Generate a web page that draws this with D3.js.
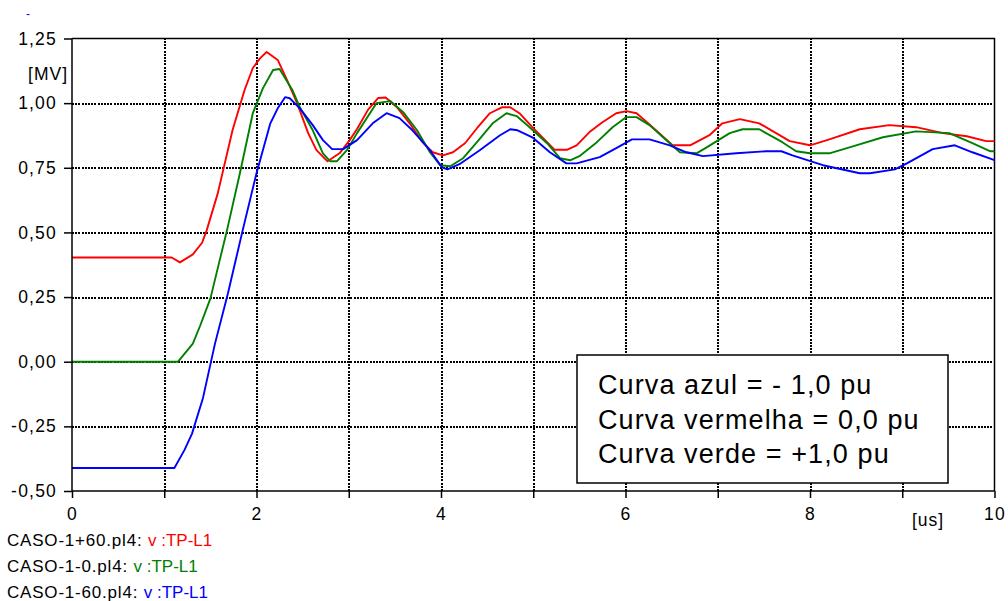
<!DOCTYPE html>
<html>
<head>
<meta charset="utf-8">
<script src="https://cdn.jsdelivr.net/npm/d3@7"></script>
<style>
  body { margin: 0; background: #fff; }
  svg { display: block; font-family: "Liberation Sans", Arial, sans-serif; }
  .axis path, .axis line { stroke: #000; stroke-width: 1.5; }
  .axis text { font-family: "Liberation Sans", Arial, sans-serif; font-size: 17.5px; fill: #000; letter-spacing: 1.2px; }
  .curve { fill: none; stroke-width: 1.9; stroke-linejoin: round; }
</style>
</head>
<body>
<script>
//************************************************************
// Data: [time in us, voltage in MV]
//************************************************************
var redCurve = [
	[0, 0.403], [1.08, 0.403], [1.17, 0.384], [1.31, 0.415], [1.41, 0.46], [1.46, 0.508], [1.58, 0.651],
	[1.74, 0.895], [1.87, 1.05], [1.96, 1.136], [2.04, 1.174], [2.11, 1.198], [2.23, 1.167], [2.33, 1.09],
	[2.44, 1.0], [2.56, 0.884], [2.65, 0.818], [2.77, 0.775], [2.90, 0.806], [3.01, 0.857], [3.09, 0.90],
	[3.21, 0.975], [3.32, 1.02], [3.40, 1.022], [3.52, 0.985], [3.66, 0.922], [3.80, 0.849], [3.91, 0.81],
	[4.02, 0.798], [4.13, 0.81], [4.26, 0.845], [4.39, 0.903], [4.53, 0.961], [4.66, 0.984], [4.75, 0.984],
	[4.85, 0.961], [5.00, 0.903], [5.15, 0.849], [5.23, 0.82], [5.37, 0.82], [5.47, 0.837], [5.61, 0.888],
	[5.75, 0.926], [5.90, 0.961], [6.01, 0.969], [6.12, 0.961], [6.26, 0.918], [6.51, 0.837], [6.70, 0.837],
	[6.91, 0.876], [7.05, 0.922], [7.24, 0.938], [7.45, 0.922], [7.78, 0.853], [8.00, 0.837], [8.21, 0.86],
	[8.54, 0.899], [8.86, 0.915], [9.15, 0.907], [9.44, 0.884], [9.70, 0.872], [9.91, 0.853], [10, 0.853]
];

var greenCurve = [
	[0, 0], [1.15, 0], [1.31, 0.07], [1.39, 0.14], [1.50, 0.244], [1.60, 0.391], [1.68, 0.508], [1.82, 0.729],
	[1.96, 0.961], [2.07, 1.058], [2.18, 1.128], [2.25, 1.132], [2.39, 1.05], [2.47, 0.984], [2.61, 0.895],
	[2.72, 0.806], [2.80, 0.775], [2.87, 0.775], [2.98, 0.818], [3.09, 0.884], [3.30, 1.0], [3.45, 1.008],
	[3.59, 0.965], [3.74, 0.895], [3.88, 0.81], [3.99, 0.76], [4.10, 0.756], [4.24, 0.787], [4.39, 0.849],
	[4.56, 0.922], [4.71, 0.961], [4.82, 0.95], [4.96, 0.907], [5.15, 0.845], [5.29, 0.787], [5.40, 0.779],
	[5.50, 0.795], [5.69, 0.849], [5.86, 0.907], [6.01, 0.946], [6.12, 0.946], [6.26, 0.915], [6.48, 0.845],
	[6.59, 0.81], [6.77, 0.806], [6.88, 0.829], [7.13, 0.884], [7.27, 0.899], [7.45, 0.899], [7.70, 0.849],
	[7.85, 0.814], [8.00, 0.806], [8.21, 0.806], [8.50, 0.837], [8.79, 0.868], [9.15, 0.891], [9.51, 0.884],
	[9.76, 0.845], [9.95, 0.814], [10, 0.814]
];

var blueCurve = [
	[0, -0.411], [1.11, -0.411], [1.22, -0.341], [1.30, -0.279], [1.42, -0.14], [1.55, 0.07], [1.69, 0.264],
	[1.85, 0.508], [2.00, 0.729], [2.15, 0.922], [2.23, 0.98], [2.31, 1.023], [2.36, 1.019], [2.47, 0.98],
	[2.61, 0.915], [2.72, 0.857], [2.82, 0.822], [2.94, 0.822], [3.09, 0.857], [3.26, 0.922], [3.41, 0.961],
	[3.55, 0.942], [3.69, 0.895], [3.88, 0.818], [4.01, 0.752], [4.07, 0.744], [4.20, 0.764], [4.42, 0.818],
	[4.64, 0.876], [4.75, 0.899], [4.83, 0.895], [4.99, 0.868], [5.18, 0.81], [5.36, 0.767], [5.47, 0.767],
	[5.72, 0.791], [5.90, 0.826], [6.07, 0.86], [6.26, 0.86], [6.48, 0.837], [6.66, 0.81], [6.84, 0.795],
	[7.20, 0.806], [7.53, 0.814], [7.69, 0.814], [7.81, 0.798], [8.14, 0.76], [8.54, 0.729], [8.65, 0.729],
	[8.92, 0.744], [9.05, 0.767], [9.33, 0.822], [9.57, 0.837], [9.76, 0.81], [10, 0.78]
];

var curves = [redCurve, greenCurve, blueCurve];
var colors = ['#ff0000', '#008000', '#0000ff'];

var legendFiles = ['CASO-1+60.pl4: ', 'CASO-1-0.pl4: ', 'CASO-1-60.pl4: '];
var legendVars = ['v :TP-L1', 'v :TP-L1', 'v :TP-L1'];

var noteLines = ['Curva azul = - 1,0 pu', 'Curva vermelha = 0,0 pu', 'Curva verde = +1,0 pu'];

var yTicks = [-0.5, -0.25, 0, 0.25, 0.5, 0.75, 1.0, 1.25];
var xTicks = [0, 1, 2, 3, 4, 5, 6, 7, 8, 9, 10];

//************************************************************
// Scales and axes
//************************************************************
const W = 1008, H = 601;
const plot = { left: 72, right: 994.5, top: 38.5, bottom: 491 };

const xScale = d3.scaleLinear().domain([0, 10]).range([plot.left, plot.right]);
const yScale = d3.scaleLinear().domain([-0.5, 1.25]).range([plot.bottom, plot.top]);

const loc = d3.formatLocale({ decimal: ",", thousands: ".", grouping: [3], currency: ["", ""], minus: "-" });
const yFmt = loc.format(".2f");

const svg = d3.select("body").append("svg")
	.attr("width", W)
	.attr("height", H);

// dotted grid, drawn with the axis generators (full-length ticks, no labels)
const gridY = svg.append("g")
	.attr("transform", "translate(" + plot.left + ",0)")
	.call(d3.axisRight(yScale)
		.tickValues(yTicks.filter(function (d) { return d > -0.5 && d < 1.25; }))
		.tickSize(plot.right - plot.left)
		.tickFormat(""));
const gridX = svg.append("g")
	.attr("transform", "translate(0," + plot.bottom + ")")
	.call(d3.axisTop(xScale)
		.tickValues(xTicks.filter(function (d) { return d > 0 && d < 10; }))
		.tickSize(plot.bottom - plot.top)
		.tickFormat(""));
[gridY, gridX].forEach(function (g) {
	g.select(".domain").remove();
	g.selectAll("line")
		.attr("stroke", "#000")
		.attr("stroke-width", 2)
		.attr("stroke-dasharray", "2,1.2")
		.attr("shape-rendering", "crispEdges");
});

// frame top + right
svg.append("path")
	.attr("d", "M" + plot.left + "," + plot.top + "H" + plot.right + "V" + plot.bottom)
	.attr("fill", "none").attr("stroke", "#000").attr("stroke-width", 1.5);

// curves
const line = d3.line()
	.x(function (d) { return xScale(d[0]); })
	.y(function (d) { return yScale(d[1]); });

svg.selectAll(".curve")
	.data(curves)
	.enter().append("path")
	.attr("class", "curve")
	.attr("stroke", function (d, i) { return colors[i]; })
	.attr("d", line);

// note box
const box = svg.append("g");
box.append("rect")
	.attr("x", 577).attr("y", 355)
	.attr("width", 371).attr("height", 128)
	.attr("fill", "#fff").attr("stroke", "#000").attr("stroke-width", 1.5);
box.selectAll("text")
	.data(noteLines)
	.enter().append("text")
	.attr("x", 598)
	.attr("y", function (d, i) { return 394 + i * 34.5; })
	.attr("font-size", 27)
	.attr("letter-spacing", 1.1)
	.text(function (d) { return d; });

// axes
const yAxis = d3.axisLeft(yScale).tickValues(yTicks).tickSize(8).tickPadding(7).tickFormat(yFmt);
const xAxis = d3.axisBottom(xScale).tickValues(xTicks).tickSize(7).tickPadding(10)
	.tickFormat(function (d) { return d % 2 === 0 ? d : ""; });

svg.append("g")
	.attr("class", "axis")
	.attr("transform", "translate(" + plot.left + ",0)")
	.call(yAxis)
	.call(function (g) { g.select(".domain").attr("d", "M0," + plot.top + "V" + plot.bottom); });

svg.append("g")
	.attr("class", "axis")
	.attr("transform", "translate(0," + plot.bottom + ")")
	.call(xAxis)
	.call(function (g) { g.select(".domain").attr("d", "M" + plot.left + ",0H" + plot.right); });

// units
svg.append("text").attr("x", 68).attr("y", 80).attr("text-anchor", "end")
	.attr("font-size", 17.5).attr("letter-spacing", 1).text("[MV]");
svg.append("text").attr("x", 928).attr("y", 526).attr("text-anchor", "middle")
	.attr("font-size", 17.5).attr("letter-spacing", 1).text("[us]");
svg.append("text").attr("x", 26).attr("y", 18).attr("font-size", 12)
	.attr("fill", "#0000ff").text("-");

// file legend
const leg = svg.append("g");
legendFiles.forEach(function (f, i) {
	const t = leg.append("text")
		.attr("x", 7)
		.attr("y", 546 + i * 26)
		.attr("font-size", 17);
	t.append("tspan").attr("fill", "#000").attr("letter-spacing", 0.8).text(f);
	t.append("tspan").attr("fill", colors[i]).attr("letter-spacing", 0).text(legendVars[i]);
});
</script>
</body>
</html>
